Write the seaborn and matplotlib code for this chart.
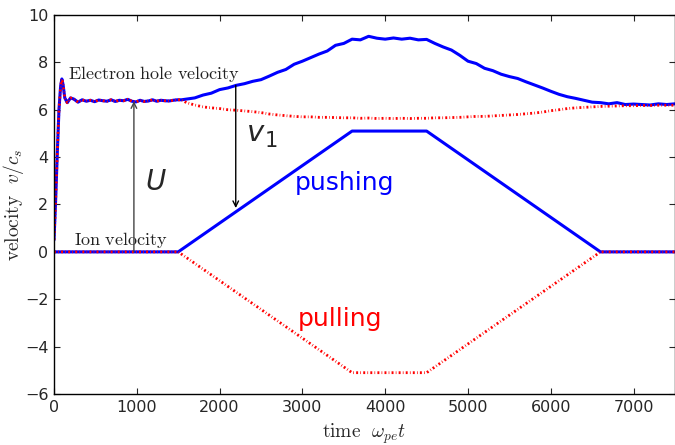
import matplotlib
matplotlib.use("Agg")
import matplotlib.pyplot as plt
import seaborn as sns
import numpy as np
import pandas as pd

# ---------------- data ----------------
# ion velocity (prescribed): pushing / pulling
t_ion = [0, 1500, 3600, 4500, 6600, 7500]
v_ion_push = [0.0, 0.0, 5.1, 5.1, 0.0, 0.0]
v_ion_pull = [0.0, 0.0, -5.1, -5.1, 0.0, 0.0]

# electron hole velocity, common early part
t_early = [0, 20, 40, 60, 80, 95, 110, 130, 160, 200, 240, 290, 340, 390, 440,
           490, 540, 590, 640, 690, 740, 790, 840, 890, 940, 990, 1040, 1090,
           1140, 1190, 1240, 1290, 1340, 1390, 1440, 1490, 1540]
v_early = [0.5, 2.2, 4.2, 6.0, 7.0, 7.3, 7.05, 6.5, 6.3, 6.5, 6.45, 6.32, 6.42,
           6.36, 6.40, 6.34, 6.41, 6.38, 6.36, 6.42, 6.35, 6.40, 6.38, 6.44,
           6.36, 6.33, 6.40, 6.35, 6.37, 6.42, 6.36, 6.40, 6.38, 6.37, 6.40,
           6.42, 6.42]

# later part, t = 1600 ... 7500 step 100
t_late = list(range(1600, 7501, 100))
v_eh_push_late = [6.45, 6.50, 6.62, 6.70, 6.85, 6.92, 7.03, 7.10, 7.20, 7.27,
                  7.42, 7.58, 7.70, 7.92, 8.05, 8.20, 8.35, 8.48, 8.72, 8.80,
                  8.98, 8.95, 9.10, 9.02, 8.98, 9.03, 8.98, 9.02, 8.95, 8.97,
                  8.80, 8.65, 8.52, 8.30, 8.05, 7.95, 7.75, 7.65, 7.50, 7.40,
                  7.32, 7.18, 7.05, 6.92, 6.78, 6.65, 6.55, 6.48, 6.40, 6.32,
                  6.30, 6.25, 6.30, 6.22, 6.24, 6.22, 6.20, 6.25, 6.22, 6.25]
v_eh_pull_late = [6.30, 6.20, 6.12, 6.08, 6.05, 6.00, 5.98, 5.95, 5.92, 5.88,
                  5.82, 5.78, 5.75, 5.72, 5.70, 5.70, 5.68, 5.68, 5.67, 5.66,
                  5.66, 5.64, 5.65, 5.63, 5.64, 5.63, 5.64, 5.63, 5.64, 5.64,
                  5.66, 5.66, 5.67, 5.68, 5.70, 5.72, 5.72, 5.74, 5.76, 5.78,
                  5.80, 5.83, 5.86, 5.90, 5.96, 6.00, 6.05, 6.08, 6.10, 6.12,
                  6.14, 6.15, 6.16, 6.17, 6.17, 6.18, 6.18, 6.19, 6.19, 6.19]

x_ticks = [0, 1000, 2000, 3000, 4000, 5000, 6000, 7000]
y_ticks = [-6, -4, -2, 0, 2, 4, 6, 8, 10]

# ---------------- style ----------------
sns.set_style("ticks")
plt.rcParams["font.family"] = ["DejaVu Sans"]
plt.rcParams["mathtext.fontset"] = "cm"
plt.rcParams["lines.scale_dashes"] = False

fig = plt.figure(figsize=(6.75, 4.45), dpi=100)
ax = fig.add_axes([0.080, 0.1146, 0.92, 0.8517])

t_eh = t_early + t_late
df_push = pd.DataFrame({"t": t_eh, "v": v_early + v_eh_push_late})
df_pull = pd.DataFrame({"t": t_eh, "v": v_early + v_eh_pull_late})
df_ion_push = pd.DataFrame({"t": t_ion, "v": v_ion_push})
df_ion_pull = pd.DataFrame({"t": t_ion, "v": v_ion_pull})

blue = "#0000ff"
red = "#ff0000"
sns.lineplot(data=df_push, x="t", y="v", ax=ax, color=blue, lw=2.2)
sns.lineplot(data=df_ion_push, x="t", y="v", ax=ax, color=blue, lw=2.2)
sns.lineplot(data=df_pull, x="t", y="v", ax=ax, color=red, lw=2.0)
sns.lineplot(data=df_ion_pull, x="t", y="v", ax=ax, color=red, lw=2.0)
for ln in ax.get_lines()[2:]:
    ln.set_dashes((1.4, 1.6, 0.5, 1.6))

ax.set_xlim(0, 7500)
ax.set_ylim(-6, 10)
ax.set_xticks(x_ticks)
ax.set_yticks(y_ticks)
ax.tick_params(direction="in", top=True, right=True, labelsize=11.5,
               length=4, width=0.8, pad=4)
for s in ax.spines.values():
    s.set_visible(True)
    s.set_linewidth(1.0)
    s.set_color("black")

ax.set_xlabel(r"$\mathrm{time}\ \ \omega_{pe}t$", fontsize=14)
ax.set_ylabel(r"$\mathrm{velocity}\ \ v/c_s$", fontsize=14)
ax.xaxis.set_label_coords(0.5, -0.072)
ax.yaxis.set_label_coords(-0.045, 0.5)

# annotations
ax.text(1206, 7.3, r"$\mathrm{Electron\ hole\ velocity}$", fontsize=13,
        ha="center", va="baseline", color="#222222")
ax.text(808, 0.28, r"$\mathrm{Ion\ velocity}$", fontsize=13,
        ha="center", va="baseline", color="#222222")

ax.annotate("", xy=(965, 6.36), xytext=(965, 0.0),
            arrowprops=dict(arrowstyle="->", color="#444444", lw=1.0,
                            shrinkA=0, shrinkB=0))
ax.annotate("", xy=(2195, 1.85), xytext=(2195, 7.03),
            arrowprops=dict(arrowstyle="->", color="black", lw=1.0,
                            shrinkA=0, shrinkB=0))

ax.text(1230, 2.95, "U", fontsize=20, style="italic", ha="center", va="center")
ax.text(2430, 5.0, "v", fontsize=21, style="italic", ha="center", va="center")
ax.text(2630, 4.7, "1", fontsize=15, ha="center", va="center")

ax.text(3510, 2.9, "pushing", fontsize=18, color=blue, ha="center", va="center")
ax.text(3450, -2.85, "pulling", fontsize=18, color=red, ha="center", va="center")

fig.savefig("out.png", dpi=100)
